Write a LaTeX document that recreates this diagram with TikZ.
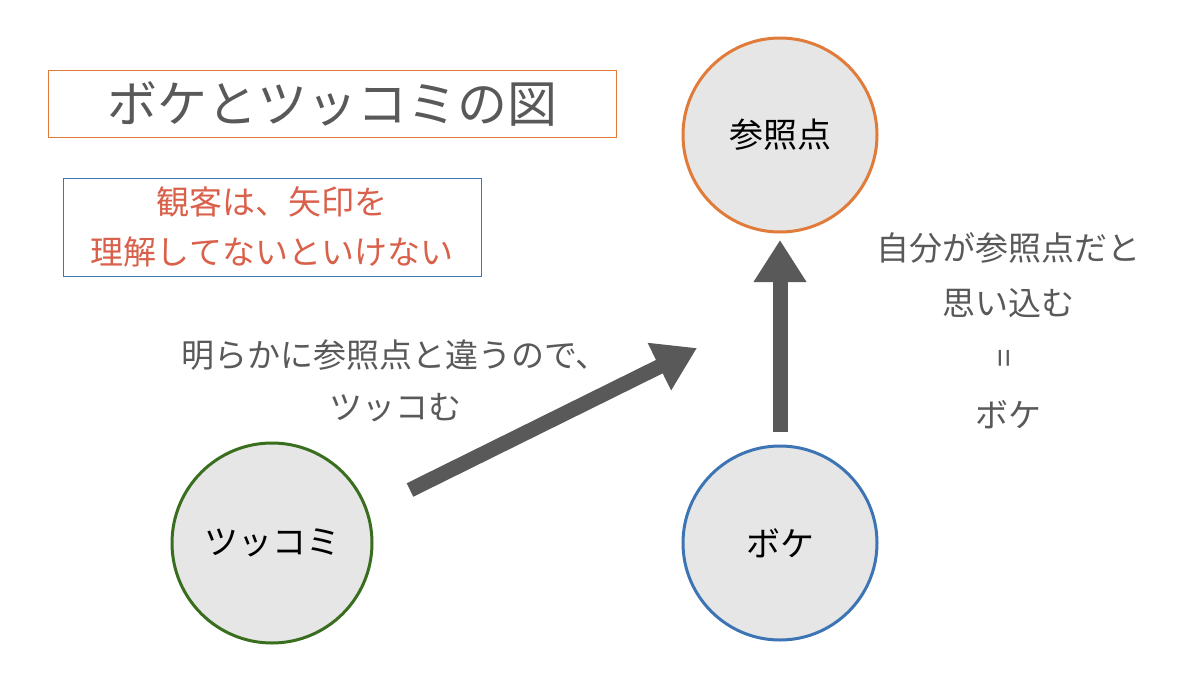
\documentclass[tikz,border=0pt]{standalone}
\usepackage{fontspec}
\newfontfamily\cjk{Noto Sans CJK JP}
\usetikzlibrary{arrows.meta}
\definecolor{gr}{HTML}{595959}
\definecolor{fillg}{HTML}{E6E6E6}
\definecolor{org}{HTML}{E07B39}
\definecolor{grn}{HTML}{3A6E1F}
\definecolor{blu}{HTML}{3D74B4}
\definecolor{redt}{HTML}{D9604A}
\begin{document}
\begin{tikzpicture}[x=1pt,y=-1pt,
  circ/.style={circle,draw=#1,line width=3pt,fill=fillg,minimum size=194pt,inner sep=0pt,font=\cjk\fontsize{34}{40}\selectfont},
  lbl/.style={text=gr,font=\cjk\fontsize{33}{40}\selectfont,inner sep=0pt},
  big/.style={gr,line width=15pt,-{Triangle[length=42pt,width=50pt]}}]
\useasboundingbox (0,0) rectangle (1200,675);
\node[draw=org,line width=0.8pt,minimum width=568pt,minimum height=67pt,text=gr,font=\cjk\fontsize{50}{56}\selectfont,inner sep=0pt] (title) at (332,103.5) {ボケとツッコミの図};
\node[draw=blu,line width=0.8pt,minimum width=418pt,minimum height=98pt,text=redt,font=\cjk\fontsize{33}{50}\selectfont,align=center,inner sep=0pt] (note) at (272,227) {観客は、矢印を\\理解してないといけない};
\node[circ=org] (ref) at (780,135) {参照点};
\node[circ=grn,minimum size=200pt] (tsu) at (272,543) {ツッコミ};
\node[circ=blu] (boke) at (780,543) {ボケ};
\coordinate (a1s) at (410,490);
\coordinate (a1e) at (697,348);
\coordinate (a2s) at (780,432);
\coordinate (a2e) at (780,240);
\draw[big] (a1s) -- (a1e);
\draw[big] (a2s) -- (a2e);
\node[lbl] (t1) at (395,355) {明らかに参照点と違うので、};
\node[lbl] (t2) at (395,408) {ツッコむ};
\node[lbl] (r1) at (1008,248) {自分が参照点だと};
\node[lbl] (r2) at (1008,303) {思い込む};
\node[lbl,rotate=90] (r3) at (1008,358) {=};
\node[lbl] (r4) at (1008,415) {ボケ};
\end{tikzpicture}
\end{document}
